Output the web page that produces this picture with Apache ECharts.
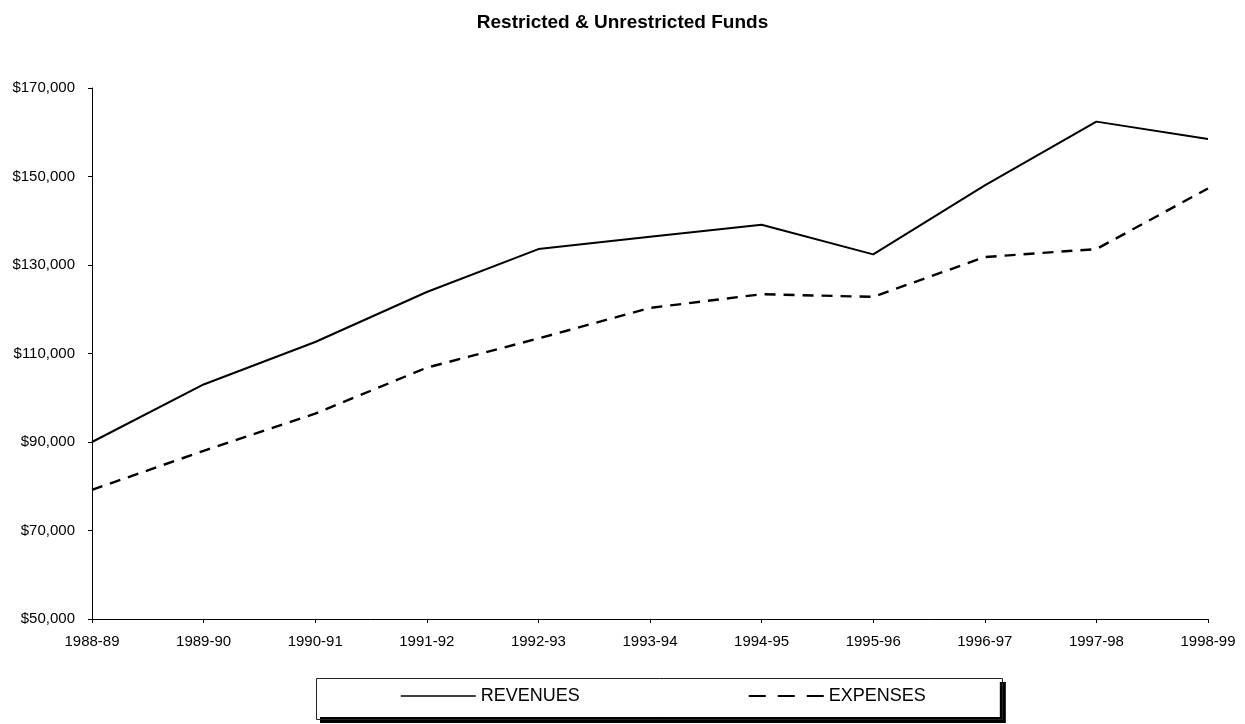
<!DOCTYPE html>
<html>
<head>
<meta charset="utf-8">
<script src="https://cdn.jsdelivr.net/npm/echarts@6/dist/echarts.min.js"></script>
<style>
html,body{margin:0;padding:0;background:#fff;}
#chart{width:1245px;height:724px;}
</style>
</head>
<body>
<div id="chart"></div>
<script>
var categories = ['1988-89','1989-90','1990-91','1991-92','1992-93','1993-94','1994-95','1995-96','1996-97','1997-98','1998-99'];
var revenues = [90000, 103000, 112600, 123900, 133600, 136400, 139100, 132400, 148000, 162400, 158500];
var expenses = [79200, 88000, 96400, 106800, 113400, 120300, 123400, 122800, 131800, 133600, 147300];
var yTicks = [50000, 70000, 90000, 110000, 130000, 150000, 170000];

var chart = echarts.init(document.getElementById('chart'));
var font = 'Liberation Sans, Arial, sans-serif';
chart.setOption({
  backgroundColor: '#fff',
  animation: false,
  title: {
    text: 'Restricted & Unrestricted Funds',
    left: 'center',
    top: 8,
    textStyle: {fontFamily: font, fontSize: 19, fontWeight: 'bold', color: '#000'}
  },
  legend: {
    orient: 'horizontal',
    left: 314,
    top: 676,
    width: 600,
    padding: [11, 74, 12, 86],
    itemGap: 168,
    itemWidth: 75,
    itemHeight: 14,
    backgroundColor: '#fff',
    borderWidth: 0,
    shadowColor: '#000',
    shadowBlur: 0,
    shadowOffsetX: 6,
    shadowOffsetY: 6,
    itemStyle: {opacity: 0},
    textStyle: {fontFamily: font, fontSize: 18, color: '#000'},
    data: [
      {name: 'REVENUES', lineStyle: {width: 1.5}},
      {name: 'EXPENSES', lineStyle: {width: 2, type: [17, 12]}}
    ]
  },
  graphic: [{
    type: 'rect',
    left: 314,
    top: 676,
    z: 100,
    shape: {width: 686, height: 41},
    style: {fill: 'none', stroke: '#222', lineWidth: 1}
  }],
  grid: {left: 92, right: 37, top: 88, bottom: 105, containLabel: false},
  xAxis: {
    type: 'category',
    data: categories,
    boundaryGap: false,
    axisLine: {lineStyle: {color: '#000', width: 1}},
    axisTick: {show: true, length: 4, inside: false, lineStyle: {color: '#000'}},
    axisLabel: {fontFamily: font, fontSize: 15, color: '#000', margin: 15, interval: 0},
    splitLine: {show: false}
  },
  yAxis: {
    type: 'value',
    min: yTicks[0],
    max: yTicks[yTicks.length - 1],
    interval: 20000,
    axisLine: {show: true, lineStyle: {color: '#000', width: 1}},
    axisTick: {show: true, length: 4, lineStyle: {color: '#000'}},
    axisLabel: {
      fontFamily: font, fontSize: 15, color: '#000', margin: 17,
      formatter: function (v) { return '$' + v.toLocaleString('en-US'); }
    },
    splitLine: {show: false}
  },
  series: [
    {
      name: 'REVENUES', type: 'line', data: revenues,
      symbol: 'none', smooth: false,
      lineStyle: {color: '#000', width: 2, type: 'solid'},
      itemStyle: {color: '#000'}
    },
    {
      name: 'EXPENSES', type: 'line', data: expenses,
      symbol: 'none', smooth: false,
      lineStyle: {color: '#000', width: 2.4, type: [11, 8]},
      itemStyle: {color: '#000'}
    }
  ]
});
</script>
</body>
</html>
